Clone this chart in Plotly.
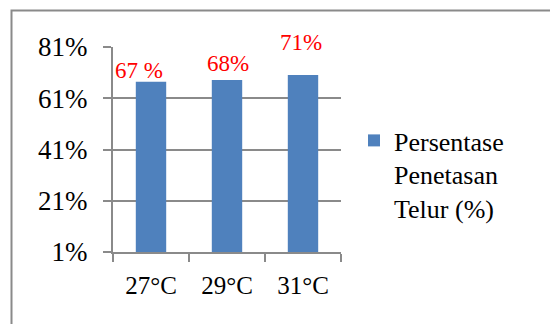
import plotly.graph_objects as go

categories = ["27°C", "29°C", "31°C"]
values = [67.4, 68.1, 70.1]
value_labels = ["67 %", "68%", "71%"]
tick_vals = [1, 21, 41, 61, 81]
tick_text = ["1%", "21%", "41%", "61%", "81%"]
series_name = "Persentase<br>Penetasan<br>Telur (%)"

FONT = "Liberation Serif"
L, R, T, B = 113, 209, 47, 72
W, H = 550, 324
pw, ph = W - L - R, H - T - B

fig = go.Figure()
fig.add_trace(go.Bar(x=categories, y=values, name=series_name,
                     marker=dict(color="#4f81bd", line=dict(width=0)),
                     showlegend=True))

label_dx = [-12, 1, -2]
label_dy = [-3, 2, 18]
for c, v, t, dx, dy in zip(categories, values, value_labels, label_dx, label_dy):
    fig.add_annotation(x=c, y=v, text=t, showarrow=False, xanchor="center",
                       yanchor="bottom", xshift=dx, yshift=dy,
                       font=dict(family=FONT, size=23, color="#ff0000"))

# outer chart border (extends beyond the visible window)
fig.add_shape(type="rect", xref="paper", yref="paper",
              x0=(11.5 - L) / pw, x1=(W + 20 - L) / pw,
              y0=(H - B - (H + 20)) / ph, y1=(H - B - 10.5) / ph,
              line=dict(color="#8a8a8a", width=2), fillcolor="rgba(0,0,0,0)", layer="below")

fig.update_layout(
    width=W, height=H,
    margin=dict(l=L, r=R, t=T, b=B),
    paper_bgcolor="white", plot_bgcolor="white",
    bargap=0.6,
    font=dict(family=FONT, color="#000000"),
    legend=dict(x=(354 - L) / pw, xanchor="left", y=(H - B - 117) / ph, yanchor="top",
                font=dict(family=FONT, size=26, color="#000000"),
                valign="top", bgcolor="rgba(0,0,0,0)"),
)
fig.update_xaxes(showline=True, linecolor="#8a8a8a", linewidth=2,
                 ticks="outside", tickson="boundaries", ticklen=8, tickwidth=2, tickcolor="#8a8a8a",
                 ticklabelstandoff=10,
                 tickfont=dict(family=FONT, size=25, color="#000000"),
                 showgrid=False)
fig.update_yaxes(range=[1, 81], tickvals=tick_vals, ticktext=tick_text,
                 showline=True, linecolor="#8a8a8a", linewidth=2,
                 ticks="outside", ticklen=8, tickwidth=2, tickcolor="#8a8a8a",
                 ticklabelstandoff=10,
                 tickfont=dict(family=FONT, size=27, color="#000000"),
                 showgrid=True, gridcolor="#8a8a8a", gridwidth=2, zeroline=False)

fig.write_html("out.html")
